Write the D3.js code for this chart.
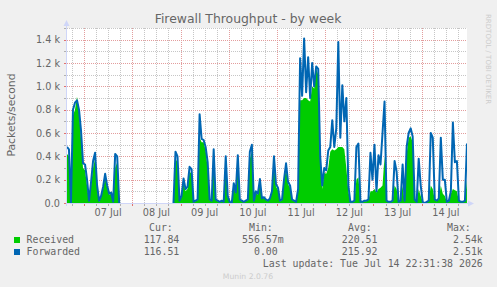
<!DOCTYPE html>
<html>
<head>
<meta charset="utf-8">
<script src="https://cdn.jsdelivr.net/npm/d3@7"></script>
<style>
body { margin: 0; background: #f0f0f0; }
svg { display: block; }
text { font-family: "DejaVu Sans", sans-serif; fill: #666; }
.mono { font-family: "DejaVu Sans Mono", monospace; font-size: 9.9px; white-space: pre; }
</style>
</head>
<body>
<div id="container"></div>
<script>
var width = 497;
var height = 287;
var plot = { left: 67, right: 467, top: 28, bottom: 203 };

// last update of the rrd, graph covers ~199 hours back from it
var lastUpdate = Date.UTC(2026, 6, 14, 22, 31, 38);
var spanHours = 199;
// hourly samples starting here (null = no data)
var firstSample = Date.UTC(2026, 6, 6, 15, 30);

var gap = new Array(26).fill(null);

var forwarded = [
  480, 460, 0, 800, 860, 880, 800, 620, 340, 330,
  200, 20, 180, 360, 430, 150, 20, 60, 140, 250,
  150, 80, 90, 10, 420, 400, 0
].concat(gap, [
  0, 440, 400, 20, 60, 210, 120, 140, 310, 290,
  10, 20, 30, 760, 550, 540, 480, 350, 30, 20,
  460, 30, 20, 10, 20, 10, 400, 60, 10, 0,
  170, 90, 410, 30, 20, 10, 20, 30, 440, 500,
  20, 100, 80, 205, 40, 50, 30, 20, 40, 100,
  400, 160, 130, 20, 30, 200, 340, 180, 150, 30,
  20, 10, 120, 1240, 920, 1410, 950, 1250, 900, 1200,
  1000, 1170, 1150, 400, 150, 300, 280, 450, 480, 710,
  480, 640, 1380, 560, 1010, 700, 900, 150, 10, 10,
  20, 480, 510, 10, 10, 20, 20, 30, 430, 200,
  500, 100, 410, 330, 600, 870, 20, 10, 10, 20,
  360, 270, 10, 20, 330, 20, 480, 600, 640, 570,
  30, 10, 380, 150, 10, 0, 10, 20, 600, 560,
  30, 20, 40, 560, 200, 200, 10, 20, 100, 690,
  350, 360, 20, 10, 10, 20, 510
]);

var received = [
  420, 400, 0, 750, 800, 910, 780, 550, 300, 280,
  150, 10, 150, 300, 380, 120, 10, 50, 120, 220,
  130, 70, 80, 10, 300, 350, 0
].concat(gap, [
  0, 380, 350, 15, 50, 180, 100, 120, 270, 250,
  10, 15, 25, 560, 520, 520, 450, 300, 25, 15,
  400, 25, 15, 10, 15, 10, 350, 50, 10, 0,
  150, 80, 360, 25, 15, 10, 15, 25, 380, 440,
  15, 90, 70, 180, 35, 45, 25, 15, 35, 90,
  350, 140, 110, 15, 25, 180, 300, 160, 130, 25,
  15, 10, 100, 880, 880, 900, 900, 880, 870, 1000,
  980, 1150, 1100, 350, 120, 260, 250, 300, 440, 460,
  450, 460, 480, 480, 480, 460, 300, 100, 10, 10,
  15, 200, 220, 10, 10, 15, 15, 25, 100, 100,
  120, 90, 120, 130, 150, 400, 15, 10, 10, 15,
  150, 120, 10, 15, 150, 15, 420, 560, 570, 520,
  25, 10, 120, 60, 10, 0, 10, 15, 150, 120,
  25, 15, 30, 150, 80, 60, 10, 15, 80, 120,
  110, 100, 15, 10, 10, 15, 200
]);

var yMax = 1500;
var yMinorStep = 100;
var yMajorStep = 200;
var yTicks = [0, 200, 400, 600, 800, 1000, 1200, 1400];

var seriesNames = ["Received", "Forwarded"];
var seriesColors = ["#00cc00", "#0066b3"];
var legendHead = ["Cur:", "Min:", "Avg:", "Max:"];
var curVals = ["117.84", "116.51"];
var minVals = ["556.57m", "0.00 "];
var avgVals = ["220.51", "215.92"];
var maxVals = ["2.54k", "2.51k"];

var titleText = "Firewall Throughput - by week";
var unitText = "Packets/second";
var updateText = "Last update: Tue Jul 14 22:31:38 2026";
var footerText = "Munin 2.0.76";
var watermarkText = "RRDTOOL / TOBI OETIKER";

var x = d3.scaleUtc()
    .domain([lastUpdate - spanHours * 3600e3, lastUpdate])
    .range([plot.left, plot.right]);
var y = d3.scaleLinear()
    .domain([0, yMax])
    .range([plot.bottom, plot.top]);

function toPoints(arr) {
    return arr.map(function(v, i) {
        return { t: new Date(firstSample + i * 3600e3), v: v };
    });
}

const svg = d3.create("svg")
    .attr("width", width)
    .attr("height", height);

svg.append("rect").attr("width", width).attr("height", height).attr("fill", "#f0f0f0");
svg.append("rect")
    .attr("x", plot.left).attr("y", plot.top)
    .attr("width", plot.right - plot.left).attr("height", plot.bottom - plot.top)
    .attr("fill", "#ffffff");

svg.append("clipPath").attr("id", "clip")
    .append("rect")
    .attr("x", plot.left).attr("y", plot.top - 2)
    .attr("width", plot.right - plot.left).attr("height", plot.bottom - plot.top + 2);

// grid
var hours6 = d3.utcHour.every(6).range(x.domain()[0], x.domain()[1]);
var days = d3.utcDay.range(x.domain()[0], x.domain()[1]);
var gridMinor = "#c6c6c6";
var gridMajor = "#e39d9d";
var yLines = d3.range(0, yMax + 1, yMinorStep);

var grid = svg.append("g").attr("stroke-dasharray", "1,1").attr("stroke-width", 1);
grid.selectAll(".vmin").data(hours6).enter().append("line")
    .attr("x1", function(d) { return Math.round(x(d)) + 0.5; })
    .attr("x2", function(d) { return Math.round(x(d)) + 0.5; })
    .attr("y1", plot.top).attr("y2", plot.bottom)
    .attr("stroke", function(d) { return d.getUTCHours() === 0 ? gridMajor : gridMinor; });
grid.selectAll(".hmin").data(yLines.filter(function(v) { return v > 0; })).enter().append("line")
    .attr("x1", plot.left).attr("x2", plot.right)
    .attr("y1", function(d) { return Math.round(y(d)) + 0.5; })
    .attr("y2", function(d) { return Math.round(y(d)) + 0.5; })
    .attr("stroke", function(d) { return d % yMajorStep === 0 ? gridMajor : gridMinor; });

// data
var area = d3.area()
    .defined(function(d) { return d.v !== null; })
    .x(function(d) { return x(d.t); })
    .y0(y(0))
    .y1(function(d) { return y(d.v); });
var line = d3.line()
    .defined(function(d) { return d.v !== null; })
    .x(function(d) { return x(d.t); })
    .y(function(d) { return y(d.v); });

var g = svg.append("g").attr("clip-path", "url(#clip)");
g.append("path").datum(toPoints(received))
    .attr("d", area)
    .attr("fill", seriesColors[0]);
g.append("path").datum(toPoints(forwarded))
    .attr("d", line)
    .attr("fill", "none")
    .attr("stroke", seriesColors[1])
    .attr("stroke-width", 2)
    .attr("stroke-linejoin", "round");

// axes
var axisColor = "#cfd6f8";
svg.append("line")
    .attr("x1", plot.left - 3).attr("x2", plot.right + 4)
    .attr("y1", plot.bottom + 0.5).attr("y2", plot.bottom + 0.5)
    .attr("stroke", axisColor);
svg.append("line")
    .attr("x1", plot.left - 0.5).attr("x2", plot.left - 0.5)
    .attr("y1", plot.bottom + 3).attr("y2", plot.top - 4)
    .attr("stroke", axisColor);
svg.append("path")
    .attr("d", "M" + (plot.right + 1) + "," + (plot.bottom - 2.5) + "L" + (plot.right + 7) + "," + (plot.bottom + 0.5) + "L" + (plot.right + 1) + "," + (plot.bottom + 3.5) + "Z")
    .attr("fill", axisColor);
svg.append("path")
    .attr("d", "M" + (plot.left - 3.5) + "," + (plot.top - 2) + "L" + (plot.left - 0.5) + "," + (plot.top - 8) + "L" + (plot.left + 2.5) + "," + (plot.top - 2) + "Z")
    .attr("fill", axisColor);

// tick marks
svg.selectAll(".xt").data(hours6).enter().append("line")
    .attr("x1", function(d) { return Math.round(x(d)) + 0.5; })
    .attr("x2", function(d) { return Math.round(x(d)) + 0.5; })
    .attr("y1", plot.bottom + 1).attr("y2", plot.bottom + 3)
    .attr("stroke", function(d) { return d.getUTCHours() === 0 ? "#e07070" : "#b0b0b0"; });
svg.selectAll(".yt").data(yLines).enter().append("line")
    .attr("x1", plot.left - 3).attr("x2", plot.left - 1)
    .attr("y1", function(d) { return Math.round(y(d)) + 0.5; })
    .attr("y2", function(d) { return Math.round(y(d)) + 0.5; })
    .attr("stroke", function(d) { return d % yMajorStep === 0 ? "#e07070" : "#b0b0b0"; });

// tick labels
svg.selectAll(".yl").data(yTicks).enter().append("text")
    .attr("x", plot.left - 7)
    .attr("y", function(d) { return y(d) + 3.5; })
    .attr("text-anchor", "end")
    .style("font-size", "9.7px")
    .text(function(d) { return d === 0 ? "0.0" : d3.format(".1f")(d / 1000) + " k"; });

// day labels sit at noon of each day
svg.selectAll(".xl").data(days).enter().append("text")
    .attr("x", function(d) { return x(d3.utcHour.offset(d, 12)); })
    .attr("y", 215.7)
    .attr("text-anchor", "middle")
    .style("font-size", "9.7px")
    .text(function(d) { return d3.utcFormat("%d %b")(d); });

// titles
svg.append("text")
    .attr("x", 248).attr("y", 23)
    .attr("text-anchor", "middle")
    .style("font-size", "12.4px")
    .text(titleText);
svg.append("text")
    .attr("transform", "translate(14.5,115) rotate(-90)")
    .attr("text-anchor", "middle")
    .style("font-size", "10.8px")
    .text(unitText);
svg.append("text")
    .attr("transform", "translate(486,14) rotate(90)")
    .style("font-size", "7px")
    .style("fill", "#cccccc")
    .text(watermarkText);

// legend
var headX = [149, 249, 348, 447];
var colEnd = [179.3, 283.7, 377.5, 482.8];
svg.selectAll(".lh").data(legendHead).enter().append("text")
    .attr("class", "mono")
    .attr("x", function(d, i) { return headX[i]; })
    .attr("y", 230.7)
    .text(function(d) { return d; });

var rowY = [243, 255];
seriesNames.forEach(function(name, i) {
    svg.append("rect")
        .attr("x", 14).attr("y", rowY[i] - 6)
        .attr("width", 6).attr("height", 6)
        .attr("fill", seriesColors[i]);
    svg.append("text").attr("class", "mono")
        .attr("x", 26.5).attr("y", rowY[i]).text(name);
    [curVals, minVals, avgVals, maxVals].forEach(function(col, j) {
        svg.append("text").attr("class", "mono")
            .attr("x", colEnd[j]).attr("y", rowY[i])
            .attr("text-anchor", "end")
            .text(col[i]);
    });
});
svg.append("text").attr("class", "mono")
    .attr("x", 482.8).attr("y", 267)
    .attr("text-anchor", "end")
    .text(updateText);
svg.append("text")
    .attr("x", 248).attr("y", 279)
    .attr("text-anchor", "middle")
    .style("font-size", "7.7px")
    .style("fill", "#cccccc")
    .text(footerText);

document.getElementById("container").append(svg.node());
</script>
</body>
</html>
